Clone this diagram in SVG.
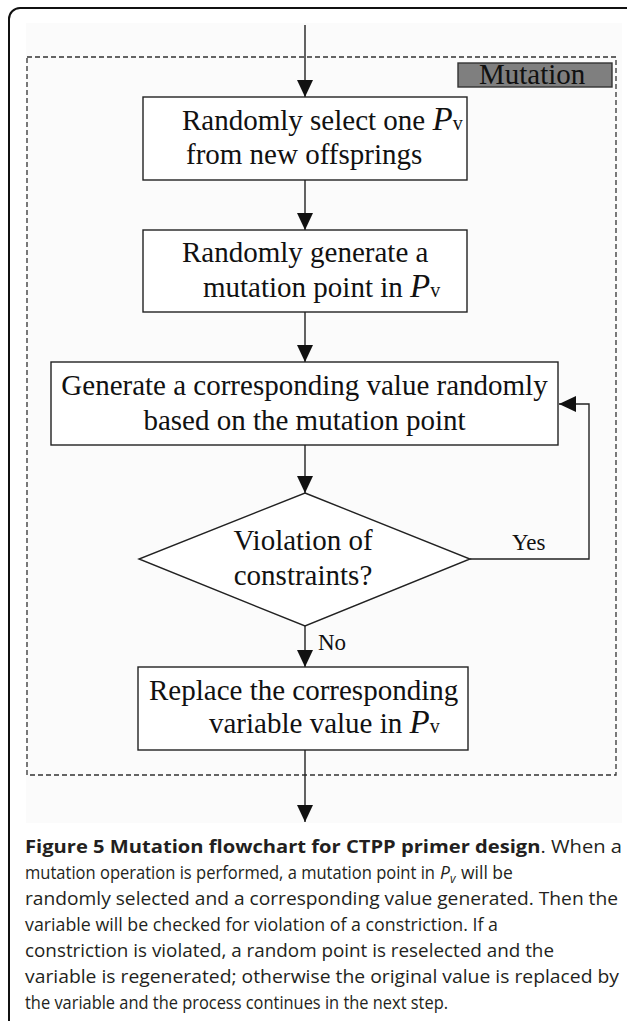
<svg xmlns="http://www.w3.org/2000/svg" width="627" height="1021" viewBox="0 0 627 1021">
<style>
.box{fill:#ffffff;stroke:#222;stroke-width:1.4}
.ln{fill:none;stroke:#222;stroke-width:1.4}
.t{font-family:"Liberation Serif","Times New Roman",serif;font-size:29px;fill:#111}
.lbl{font-family:"Liberation Serif","Times New Roman",serif;font-size:23px;fill:#111}
.P{font-style:italic;font-size:33px}
.v{font-size:20px}
.cap{font-family:"Open Sans","Noto Sans",sans-serif;font-size:17.5px;fill:#231f20}
</style>
<defs>
<marker id="ah" markerWidth="17" markerHeight="16" refX="17" refY="8" orient="auto" markerUnits="userSpaceOnUse">
<path d="M0,0 L17,8 L0,16 Z" fill="#111"/>
</marker>
</defs>
<rect x="9" y="8" width="640" height="1040" rx="11" fill="#ffffff" stroke="#111" stroke-width="2"/>
<rect x="26" y="23" width="596" height="800" fill="#fbfbfb"/>
<g id="mutation-region">
<rect x="27" y="57" width="589" height="718" fill="none" stroke="#333" stroke-width="1.3" stroke-dasharray="5,3"/>
<rect x="458" y="63" width="154" height="24" fill="#7f7f7f" stroke="#333" stroke-width="1.4"/>
<text class="t" x="479" y="84" font-size="28">Mutation</text>
</g>
<g id="connectors">
<line class="ln" x1="305" y1="25" x2="305" y2="97" marker-end="url(#ah)"/>
<line class="ln" x1="305" y1="180" x2="305" y2="230" marker-end="url(#ah)"/>
<line class="ln" x1="305" y1="312" x2="305" y2="362" marker-end="url(#ah)"/>
<line class="ln" x1="305" y1="445" x2="305" y2="493" marker-end="url(#ah)"/>
<line class="ln" x1="305" y1="626" x2="305" y2="667" marker-end="url(#ah)"/>
<line class="ln" x1="305" y1="750" x2="305" y2="822" marker-end="url(#ah)"/>
<polyline class="ln" points="470,559 589,559 589,404 559,404" marker-end="url(#ah)"/>
<text class="lbl" x="512" y="550">Yes</text>
<text class="lbl" x="318" y="650">No</text>
</g>
<g id="node-select">
<rect class="box" x="143" y="97" width="324" height="83"/>
<text class="t" x="182" y="130">Randomly select one <tspan class="P">P</tspan><tspan class="v">v</tspan></text>
<text class="t" x="186" y="164">from new offsprings</text>
</g>
<g id="node-point">
<rect class="box" x="143" y="230" width="324" height="82"/>
<text class="t" x="182" y="262">Randomly generate a</text>
<text class="t" x="203" y="297">mutation point in <tspan class="P">P</tspan><tspan class="v">v</tspan></text>
</g>
<g id="node-generate">
<rect class="box" x="51" y="362" width="507" height="83"/>
<text class="t" x="304.5" y="395" text-anchor="middle">Generate a corresponding value randomly</text>
<text class="t" x="304.5" y="430" text-anchor="middle">based on the mutation point</text>
</g>
<g id="node-decision">
<polygon class="box" points="305,493 470,559 305,626 139,559"/>
<text class="t" x="303" y="550" text-anchor="middle">Violation of</text>
<text class="t" x="303" y="585" text-anchor="middle">constraints?</text>
</g>
<g id="node-replace">
<rect class="box" x="138" y="667" width="330" height="83"/>
<text class="t" x="149" y="700">Replace the corresponding</text>
<text class="t" x="209" y="733">variable value in <tspan class="P">P</tspan><tspan class="v">v</tspan></text>
</g>
<g id="caption">
<text class="cap" x="25" y="853" textLength="597" lengthAdjust="spacingAndGlyphs"><tspan font-weight="bold">Figure 5 Mutation flowchart for CTPP primer design</tspan>. When a</text>
<text class="cap" x="25" y="879"><tspan textLength="410" lengthAdjust="spacingAndGlyphs">mutation operation is performed, a mutation point in</tspan><tspan x="440" font-style="italic">P</tspan><tspan x="450" dy="4" font-style="italic" font-size="12">v</tspan><tspan x="461" dy="-4">will be</tspan></text>
<text class="cap" x="25" y="905" textLength="593" lengthAdjust="spacingAndGlyphs">randomly selected and a corresponding value generated. Then the</text>
<text class="cap" x="25" y="931" textLength="473" lengthAdjust="spacingAndGlyphs">variable will be checked for violation of a constriction. If a</text>
<text class="cap" x="25" y="957" textLength="529" lengthAdjust="spacingAndGlyphs">constriction is violated, a random point is reselected and the</text>
<text class="cap" x="25" y="983" textLength="594" lengthAdjust="spacingAndGlyphs">variable is regenerated; otherwise the original value is replaced by</text>
<text class="cap" x="25" y="1009" textLength="423" lengthAdjust="spacingAndGlyphs">the variable and the process continues in the next step.</text>
</g>
</svg>
